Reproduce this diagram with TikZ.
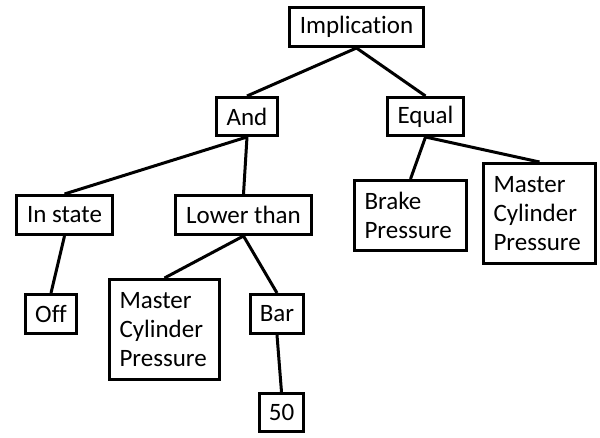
\documentclass[tikz,border=0pt]{standalone}
\usepackage{fontspec}
\setmainfont{Carlito}[Ligatures=NoCommon]
\begin{document}
\begin{tikzpicture}[x=1pt,y=-1pt,
  box/.style={draw, line width=3pt, inner sep=0pt, font=\fontsize{25}{29}\selectfont},
  ml/.style={box, align=left, inner xsep=10pt},
  conn/.style={line width=3pt}]
\useasboundingbox (0,0) rectangle (600,437);
\node[box, minimum width=134pt, minimum height=39pt] (impl) at (356.5,27) {Implication};
\node[box, minimum width=61pt, minimum height=38pt] (and) at (247,116.5) {And};
\node[box, minimum width=76pt, minimum height=38pt] (equal) at (425.5,116.5) {Equal};
\node[box, minimum width=96pt, minimum height=39pt] (instate) at (64.5,215) {In state};
\node[box, minimum width=136pt, minimum height=39pt] (lower) at (243.5,215) {Lower than};
\node[ml, text width=92pt, minimum height=70pt] (brake) at (410.5,215.5) {Brake\\Pressure};
\node[ml, text width=92pt, minimum height=100pt] (mcpr) at (539.5,213.5) {Master\\Cylinder\\Pressure};
\node[box, minimum width=51pt, minimum height=39pt] (off) at (51,314) {Off};
\node[ml, text width=90pt, minimum height=100pt] (mcpl) at (164.5,329.5) {Master\\Cylinder\\Pressure};
\node[box, minimum width=53pt, minimum height=39pt] (bar) at (277,314) {Bar};
\node[box, minimum width=44pt, minimum height=38pt] (fifty) at (281.5,412.5) {50};
\draw[conn] (impl.south) -- (and.north);
\draw[conn] (impl.south) -- (equal.north);
\draw[conn] (and.south) -- (instate.north);
\draw[conn] (and.south) -- (lower.north);
\draw[conn] (equal.south) -- (brake.north);
\draw[conn] (equal.south) -- (mcpr.north);
\draw[conn] (instate.south) -- (off.north);
\draw[conn] (lower.south) -- (mcpl.north);
\draw[conn] (lower.south) -- (bar.north);
\draw[conn] (bar.south) -- (fifty.north);
\end{tikzpicture}
\end{document}
